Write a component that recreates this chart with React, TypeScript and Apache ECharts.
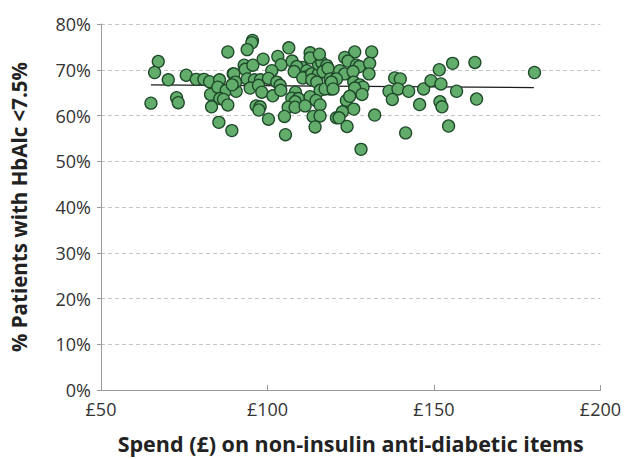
import React, { useEffect, useRef } from "react";
import * as echarts from "echarts";

const xTicks = [50, 100, 150, 200];
const yTicks = [0, 10, 20, 30, 40, 50, 60, 70, 80];

const spend: number[] = [
  67.2, 66.1, 70.2, 75.6, 65.0, 72.7, 73.2, 88.1, 78.6, 80.9, 82.6, 85.6, 89.7, 82.9, 85.1, 87.6, 85.7, 86.8, 88.1, 83.2, 85.4, 89.3, 90.0, 90.6,
  95.5, 95.3, 93.9, 98.7, 93.0, 93.3, 95.6, 103.1, 104.1, 106.4, 107.4, 101.3, 89.9, 90.4, 89.4, 93.9, 96.1, 97.9, 100.3, 94.8, 97.3, 98.3,
  101.6, 102.8, 103.8, 104.0, 108.4, 107.3, 109.3, 108.3, 106.2, 108.3, 96.6, 97.8, 97.4, 100.3, 105.1, 105.4, 110.4, 108.8, 108.0, 111.8,
  111.3, 110.6, 113.3, 115.3, 115.3, 116.3, 117.8, 112.8, 112.8, 115.6, 113.3, 114.8, 116.7, 118.2, 118.8, 120.6, 118.8, 115.8, 117.3,
  112.8, 114.6, 115.8, 111.3, 113.7, 115.8, 114.3, 120.7,
  126.2, 131.3, 123.2, 124.2, 126.7, 127.6, 130.7, 121.7, 123.2, 125.7, 130.5, 120.7, 119.2, 119.7, 125.9, 127.7, 128.7, 126.2, 123.7,
  124.7, 128.4, 125.9, 122.5, 121.5, 123.9, 132.2, 128.1, 138.2, 139.9, 136.5, 139.2, 142.4, 137.5, 145.7, 141.5, 146.9, 149.1,
  151.6, 155.6, 162.3, 152.1, 156.8, 151.8, 152.4, 162.8, 154.4, 180.2,
];

const patientsPct: number[] = [
  71.8, 69.4, 67.8, 68.8, 62.7, 63.9, 62.8, 73.9, 67.9, 67.9, 67.4, 67.8, 69.1, 64.6, 66.2, 65.5, 63.7, 63.5, 62.3, 61.9, 58.5, 56.7, 67.1, 65.3,
  76.4, 75.9, 74.4, 72.3, 71.0, 70.1, 71.0, 72.9, 71.1, 74.8, 71.9, 69.8, 69.1, 67.3, 66.7, 68.0, 67.8, 67.8, 68.1, 66.0, 66.6, 65.1,
  64.3, 67.3, 66.6, 65.5, 65.1, 63.8, 63.7, 63.0, 61.8, 61.8, 62.1, 61.9, 61.2, 59.2, 59.8, 55.8, 70.5, 70.7, 69.6, 69.8,
  68.4, 68.2, 69.1, 69.1, 71.2, 71.6, 70.9, 73.7, 72.6, 73.4, 67.8, 67.3, 69.6, 70.3, 68.0, 68.0, 65.8, 65.5, 65.8,
  64.1, 63.3, 62.3, 62.1, 59.8, 59.9, 57.5, 59.5,
  73.9, 73.9, 72.7, 71.9, 71.0, 70.7, 71.4, 69.8, 69.1, 69.6, 69.1, 68.0, 67.3, 65.8, 67.3, 66.7, 66.2, 66.0, 63.3,
  64.2, 64.6, 61.4, 60.8, 59.5, 57.6, 60.1, 52.6, 68.2, 68.0, 65.3, 65.8, 65.3, 63.5, 62.4, 56.2, 65.8, 67.6,
  70.0, 71.4, 71.6, 66.9, 65.3, 63.0, 61.9, 63.6, 57.7, 69.4,
];

const trendX: number[] = [65, 180];
const trendY: number[] = [66.7, 66.1];

const FONT = "'Open Sans', 'Noto Sans', sans-serif";

export default function App() {
  const ref = useRef<HTMLDivElement>(null);
  useEffect(() => {
    if (!ref.current) return;
    const chart = echarts.init(ref.current, null, { renderer: "svg" });
    const points = spend.map((x, i) => [x, patientsPct[i]]);
    const trend = trendX.map((x, i) => [x, trendY[i]]);
    chart.setOption({
      animation: false,
      backgroundColor: "#ffffff",
      grid: { left: 100, right: 22, top: 24, bottom: 64 },
      xAxis: {
        type: "value",
        min: xTicks[0],
        max: xTicks[xTicks.length - 1],
        interval: 50,
        name: "Spend (£) on non-insulin anti-diabetic items",
        nameLocation: "middle",
        nameGap: 42,
        nameTextStyle: { fontFamily: FONT, fontSize: 21.5, fontWeight: "bold", color: "#222" },
        axisLine: { show: true, lineStyle: { color: "#9a9a9a", width: 1 } },
        axisTick: { show: true, inside: true, length: 5, lineStyle: { color: "#9a9a9a" } },
        axisLabel: { fontFamily: FONT, fontSize: 18, color: "#333", margin: 10, formatter: (v: number) => "£" + v },
        splitLine: { show: false },
      },
      yAxis: {
        type: "value",
        min: yTicks[0],
        max: yTicks[yTicks.length - 1],
        interval: 10,
        name: "% Patients with HbAlc <7.5%",
        nameLocation: "middle",
        nameGap: 72,
        nameTextStyle: { fontFamily: FONT, fontSize: 20.5, fontWeight: "bold", color: "#222" },
        axisLine: { show: true, lineStyle: { color: "#9a9a9a", width: 1 } },
        axisTick: { show: true, inside: false, length: 4, lineStyle: { color: "#9a9a9a" } },
        axisLabel: { fontFamily: FONT, fontSize: 18, color: "#333", margin: 10, formatter: (v: number) => v + "%" },
        splitLine: { show: true, lineStyle: { color: "#c4c4c4", type: [4, 3], width: 1 } },
      },
      series: [
        {
          type: "line",
          data: trend,
          showSymbol: false,
          symbol: "none",
          lineStyle: { color: "#1a1a1a", width: 1.3 },
          z: 2,
        },
        {
          type: "scatter",
          data: points,
          symbol: "circle",
          symbolSize: 12,
          itemStyle: { color: "#62ad6c", borderColor: "#1f4a2a", borderWidth: 1.3, opacity: 1 },
          z: 3,
        },
      ],
    });
    return () => chart.dispose();
  }, []);
  return (
    <div
      ref={ref}
      style={{ position: "fixed", left: 0, top: 0, width: 624, height: 459 }}
    />
  );
}
